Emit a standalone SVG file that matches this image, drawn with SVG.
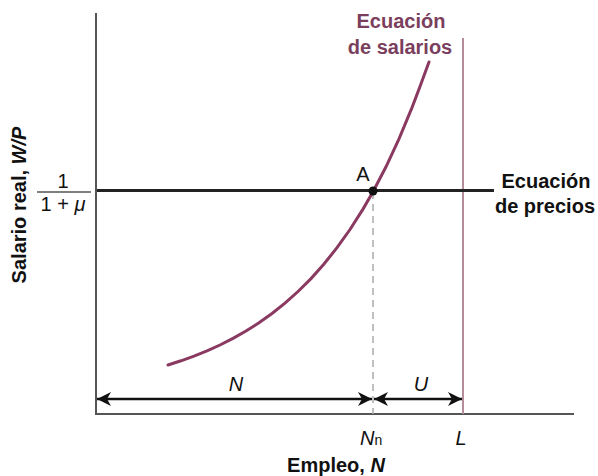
<svg xmlns="http://www.w3.org/2000/svg" width="598" height="476" viewBox="0 0 598 476">
<defs>
<style>
text{font-family:"Liberation Sans",Arial,sans-serif;fill:#111}
.b{font-weight:bold;font-size:20px}
.r{font-size:20px}
.i{font-style:italic;font-size:20px}
.m{fill:#7b3f5e}
.axis{stroke:#555;stroke-width:2;fill:none}
</style>
<marker id="ah" viewBox="0 0 14 14" refX="14" refY="7" markerWidth="14" markerHeight="14" markerUnits="userSpaceOnUse" orient="auto-start-reverse">
<path d="M0,0 L14,7 L0,14 L4,7 Z" fill="#111"/>
</marker>
</defs>
<rect width="598" height="476" fill="#fff"/>
<g id="axes">
<line class="axis" x1="96" y1="13" x2="96" y2="415"/>
<line class="axis" x1="95" y1="414" x2="574" y2="414"/>
</g>
<g id="connectors">
<line x1="463" y1="38" x2="463" y2="414" stroke="#b48c9c" stroke-width="2"/>
<line x1="373" y1="192" x2="373" y2="414" stroke="#aaa" stroke-width="1.5" stroke-dasharray="7,5"/>
<line x1="97" y1="190.5" x2="494" y2="190.5" stroke="#222" stroke-width="3"/>
<polyline fill="none" stroke="#8a3a60" stroke-width="3" stroke-linecap="round" points="168,365 181,360.8 194,356.1 207,350.9 220,345 233,338.4 246,331 259,322.8 272,313.5 285,303.1 298,291.5 311,278.6 324,264 337,247.7 350,229.5 363,209.1 373,191.7 386,166.8 399,138.8 412,107.6 420,86.5 429,62"/>
<line x1="97" y1="399" x2="372" y2="399" stroke="#111" stroke-width="2.5" marker-start="url(#ah)" marker-end="url(#ah)"/>
<line x1="374" y1="399" x2="462" y2="399" stroke="#111" stroke-width="2.5" marker-start="url(#ah)" marker-end="url(#ah)"/>
</g>
<g id="pointA">
<circle cx="373" cy="191" r="4.5" fill="#111"/>
<text class="r" x="363" y="181" text-anchor="middle">A</text>
</g>
<g id="wage-label">
<text class="b m" x="401" y="28" text-anchor="middle">Ecuación</text>
<text class="b m" x="400" y="54" text-anchor="middle">de salarios</text>
</g>
<g id="price-label">
<text class="b" x="546" y="188" text-anchor="middle">Ecuación</text>
<text class="b" x="545" y="213" text-anchor="middle">de precios</text>
</g>
<g id="fraction">
<text class="r" x="63" y="188" text-anchor="middle">1</text>
<line x1="37" y1="192" x2="91" y2="192" stroke="#555" stroke-width="1.5"/>
<text class="r" x="63" y="211" text-anchor="middle">1 + <tspan font-style="italic">μ</tspan></text>
</g>
<g id="labels">
<text class="i" x="236" y="391" text-anchor="middle">N</text>
<text class="i" x="421" y="391" text-anchor="middle">U</text>
<text class="i" x="360" y="445">N<tspan font-style="normal" font-size="14">n</tspan></text>
<text class="i" x="461" y="445" text-anchor="middle">L</text>
<text class="b" x="336" y="472" text-anchor="middle">Empleo, <tspan font-style="italic">N</tspan></text>
<text class="b" transform="translate(26,205) rotate(-90)" text-anchor="middle">Salario real, <tspan font-style="italic">W/P</tspan></text>
</g>
</svg>
